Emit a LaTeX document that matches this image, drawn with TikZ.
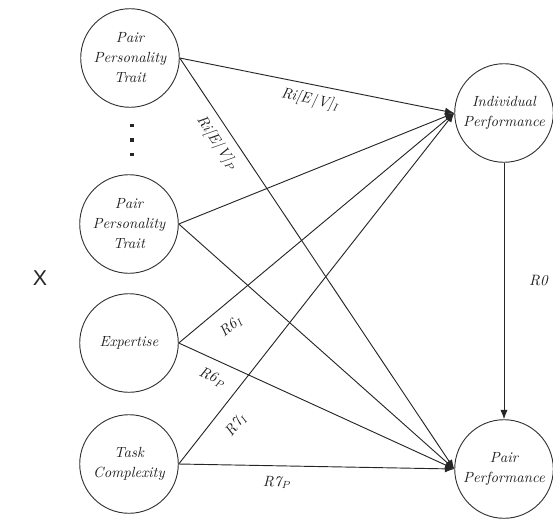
\documentclass[tikz,border=0pt]{standalone}
\usepackage{fontspec}
\newfontfamily\xfont{Liberation Sans}
\usetikzlibrary{arrows.meta}
\newcommand{\sqdot}{\hbox{\rule{2.3pt}{2.3pt}}}
\begin{document}
\begin{tikzpicture}[x=0.7pt,y=-0.7pt,
  var/.style={circle,draw=black!80,line width=0.65pt,minimum size=69pt,inner sep=0pt,
    align=center,font={\itshape\fontsize{10.3}{14}\selectfont},text=black!88},
  link/.style={draw=black!85,line width=0.65pt,-{Latex[length=6.5pt,width=5pt]}},
  lbl/.style={font={\itshape\fontsize{10.5}{12}\selectfont},text=black!88,sloped,inner sep=2pt}]
\useasboundingbox (0,0) rectangle (553,527);

% predictors
\node[var] (p1) at (130,58)  {Pair\\Personality\\Trait};
\node[var] (p2) at (129,224) {Pair\\Personality\\Trait};
\node[var] (ex) at (129,343) {Expertise};
\node[var] (tc) at (129,464) {Task\\Complexity};

% outcomes
\node[var] (ip) at (504,113) {Individual\\Performance};
\node[var] (pp) at (504,469) {Pair\\Performance};

% ellipsis between the personality traits
\node[inner sep=0pt,text=black!85] (dots) at (132,140)
  {\vbox{\offinterlineskip\sqdot\vskip 7.8pt\sqdot\vskip 7.8pt\sqdot}};

\node[font={\xfont\fontsize{15}{18}\selectfont},text=black!85] (xlab) at (40,278) {X};

% paths
\draw[link] (p1.east) -- node[lbl,pos=0.485,below=3.3pt] {Ri[E\kern1pt|\kern1pt V]\textsubscript{I}} (ip.west);
\draw[link] (p1.east) -- node[lbl,pos=0.185,below=4pt] {Ri[E\kern1pt|\kern1pt V]\textsubscript{P}} (pp.west);
\draw[link] (p2.east) -- (ip.west);
\draw[link] (p2.east) -- (pp.west);
\draw[link] (ex.east) -- node[lbl,pos=0.14,below=8pt] {R6\textsubscript{I}} (ip.west);
\draw[link] (ex.east) -- node[lbl,pos=0.148,below=5.5pt] {R6\textsubscript{P}} (pp.west);
\draw[link] (tc.east) -- node[lbl,pos=0.147,below=8pt] {R7\textsubscript{I}} (ip.west);
\draw[link] (tc.east) -- node[lbl,pos=0.357,below=5pt] {R7\textsubscript{P}} (pp.west);
\draw[link] (ip.south) -- node[font={\itshape\fontsize{10.5}{12}\selectfont},text=black!88,pos=0.46,right=14pt] {R0} (pp.north);
\end{tikzpicture}
\end{document}
